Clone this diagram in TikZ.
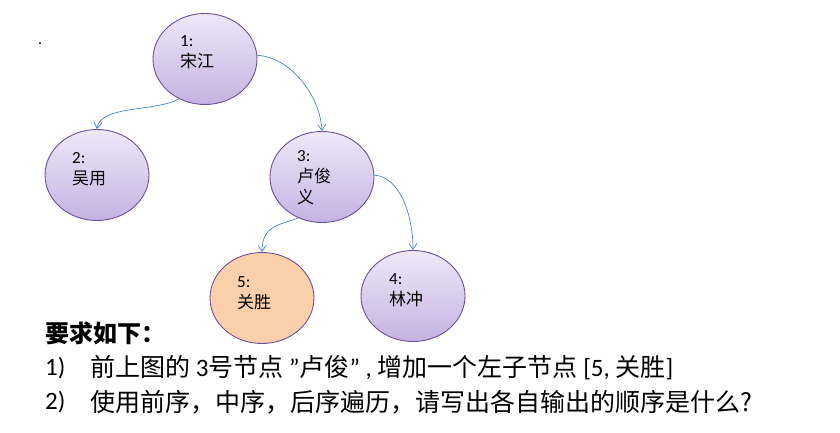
\documentclass[tikz,border=0pt]{standalone}
\usepackage{fontspec}
\setmainfont{Carlito}
\newfontfamily\cjk{Noto Sans CJK SC}
\usetikzlibrary{arrows.meta,shapes.geometric}
\definecolor{edge}{RGB}{79,129,189}
\definecolor{bord}{RGB}{110,80,150}
\tikzset{
 tn/.style={ellipse,draw=bord,line width=0.9pt,top color={rgb,255:red,238;green,232;blue,248},bottom color={rgb,255:red,198;green,178;blue,226},minimum width=104pt,minimum height=91pt,inner sep=0pt},
 on/.style={ellipse,draw=bord,line width=0.9pt,fill={rgb,255:red,250;green,207;blue,170},minimum width=104pt,minimum height=91pt,inner sep=0pt},
 lb/.style={anchor=north west,font=\fontsize{17}{21}\selectfont,align=left,inner sep=0pt},
 ed/.style={draw=edge,line width=0.7pt,-{Straight Barb[length=6pt,width=8pt]}},
 tx/.style={anchor=west,font=\fontsize{25}{28}\selectfont,inner sep=0pt}
}
\begin{document}
\begin{tikzpicture}[x=1pt,y=-1pt]
\useasboundingbox (0,0) rectangle (840,433);
\node[tn] (n1) at (205,59) {};
\node[tn] (n2) at (97,175) {};
\node[tn] (n3) at (322,177) {};
\node[on] (n5) at (262,298) {};
\node[tn] (n4) at (413,296) {};
\node[lb] (t1) at (180,35) {1:\\{\cjk 宋江}};
\node[lb] (t2) at (72,152) {2:\\{\cjk 吴用}};
\node[lb] (t3) at (297,150) {3:\\{\cjk 卢俊}\\{\cjk 义}};
\node[lb] (t5) at (237,276) {5:\\{\cjk 关胜}};
\node[lb] (t4) at (389,273) {4:\\{\cjk 林冲}};
\draw[ed] (n1.-123) .. controls (155,112) and (100,105) .. (n2.north);
\draw[ed] (n1.4) .. controls (290,57) and (320,95) .. (n3.north);
\draw[ed] (n3.-120) .. controls (280,225) and (262,225) .. (n5.north);
\draw[ed] (n3.2) .. controls (400,177) and (413,215) .. (n4.north);
\fill (40,43) circle (1.2pt);
\node[tx,font=\fontsize{24}{28}\selectfont\bfseries\cjk] (h) at (45,333) {要求如下：};
\node[tx] (a1) at (45,368) {1)};
\node[tx] (b1) at (90,368) {{\cjk 前上图的} 3{\cjk 号节点} "{\cjk 卢俊}" , {\cjk 增加一个左子节点} [5, {\cjk 关胜}]};
\node[tx] (a2) at (45,402) {2)};
\node[tx] (b2) at (90,402) {\cjk 使用前序，中序，后序遍历，请写出各自输出的顺序是什么?};
\end{tikzpicture}
\end{document}
